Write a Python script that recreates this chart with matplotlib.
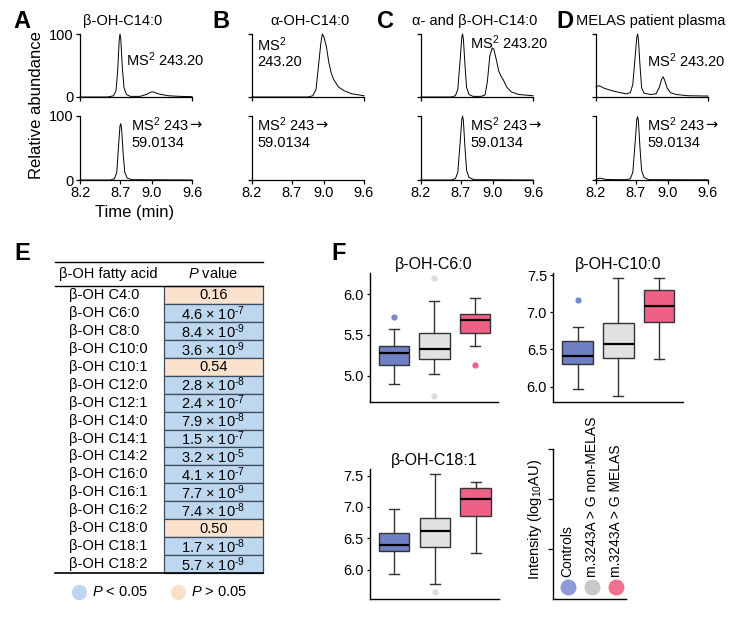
import numpy as np
import matplotlib
matplotlib.use("Agg")
import matplotlib.pyplot as plt
from matplotlib.patches import Rectangle
from matplotlib.lines import Line2D

plt.rcParams['font.family'] = ['Liberation Sans', 'DejaVu Sans']
plt.rcParams['mathtext.fontset'] = 'custom'
plt.rcParams['mathtext.rm'] = 'Liberation Sans'
plt.rcParams['mathtext.it'] = 'Liberation Sans:italic'

W, H = 735, 620


"""Chromatograms: retention position (min) and relative abundance (%)"""
time_ticks = [8.2, 8.7, 9.1, 9.6]
time_labels = ['8.2', '8.7', '9.0', '9.6']

a_top_t = [8.20, 8.55, 8.62, 8.65, 8.67, 8.69, 8.70, 8.71, 8.73, 8.75, 8.78, 8.83, 8.95, 9.03, 9.09, 9.12, 9.18, 9.30, 9.45, 9.60]
a_top_y = [0, 0, 2, 10, 40, 90, 100, 92, 45, 15, 4, 1, 1, 4, 8, 8, 5, 2, 1, 0.5]
a_bot_t = [8.20, 8.58, 8.63, 8.66, 8.68, 8.70, 8.71, 8.72, 8.74, 8.76, 8.79, 8.85, 9.60]
a_bot_y = [0, 0, 2, 12, 50, 85, 88, 80, 40, 12, 3, 0.5, 0]

b_top_t = [8.20, 8.90, 8.96, 9.00, 9.03, 9.06, 9.08, 9.10, 9.13, 9.16, 9.19, 9.22, 9.28, 9.35, 9.45, 9.60]
b_top_y = [0, 0, 2, 12, 48, 85, 100, 95, 80, 55, 38, 28, 16, 10, 5, 2]
b_bot_t = [8.20, 9.60]
b_bot_y = [0, 0]

c_top_t = [8.20, 8.58, 8.63, 8.66, 8.69, 8.71, 8.72, 8.73, 8.75, 8.77, 8.80, 8.85, 8.95, 9.00, 9.03, 9.06, 9.09, 9.11, 9.14, 9.17, 9.20, 9.23, 9.27, 9.33, 9.42, 9.60]
c_top_y = [0, 0, 2, 12, 60, 95, 100, 92, 50, 15, 4, 1, 1, 3, 25, 65, 78, 76, 60, 42, 33, 27, 16, 8, 4, 2]
c_bot_t = [8.20, 8.58, 8.63, 8.66, 8.69, 8.71, 8.72, 8.73, 8.75, 8.77, 8.80, 8.86, 9.60]
c_bot_y = [0, 0, 2, 12, 60, 95, 100, 92, 50, 15, 4, 0.5, 0]

d_top_t = [8.20, 8.24, 8.30, 8.40, 8.50, 8.58, 8.63, 8.66, 8.69, 8.71, 8.72, 8.73, 8.75, 8.77, 8.80, 8.88, 8.95, 8.99, 9.02, 9.04, 9.06, 9.09, 9.13, 9.20, 9.35, 9.60]
d_top_y = [16, 18, 14, 10, 7, 5, 7, 20, 65, 95, 100, 92, 50, 15, 6, 4, 5, 15, 28, 32, 26, 14, 7, 4, 2, 1.5]
d_bot_t = [8.20, 8.25, 8.32, 8.45, 8.58, 8.63, 8.66, 8.69, 8.71, 8.72, 8.73, 8.75, 8.77, 8.80, 8.86, 9.60]
d_bot_y = [1, 3, 1, 0.5, 0.5, 2, 12, 60, 95, 99, 92, 50, 15, 4, 0.5, 0.3]

chrom_titles = ['β-OH-C14:0', 'α-OH-C14:0', 'α- and β-OH-C14:0', 'MELAS patient plasma']


"""Table E"""
fatty_acids = ['β-OH C4:0', 'β-OH C6:0', 'β-OH C8:0', 'β-OH C10:0', 'β-OH C10:1',
               'β-OH C12:0', 'β-OH C12:1', 'β-OH C14:0', 'β-OH C14:1', 'β-OH C14:2',
               'β-OH C16:0', 'β-OH C16:1', 'β-OH C16:2', 'β-OH C18:0', 'β-OH C18:1',
               'β-OH C18:2']
p_mant = [0.16, 4.6, 8.4, 3.6, 0.54, 2.8, 2.4, 7.9, 1.5, 3.2, 4.1, 7.7, 7.4, 0.50, 1.7, 5.7]
p_exp = [0, -7, -9, -9, 0, -8, -7, -8, -7, -5, -7, -9, -8, 0, -8, -9]


"""Box plots F"""
groups = ['Controls', 'm.3243A > G non-MELAS', 'm.3243A > G MELAS']
c6_whislo = [4.90, 5.02, 5.36]
c6_q1 = [5.13, 5.21, 5.52]
c6_med = [5.28, 5.33, 5.68]
c6_q3 = [5.36, 5.52, 5.76]
c6_whishi = [5.57, 5.92, 5.95]
c6_fliers = [[5.72], [6.20, 4.75], [5.13]]

c10_whislo = [5.97, 5.87, 6.37]
c10_q1 = [6.31, 6.39, 6.87]
c10_med = [6.41, 6.58, 7.09]
c10_q3 = [6.62, 6.86, 7.30]
c10_whishi = [6.80, 7.46, 7.46]
c10_fliers = [[7.17], [], []]

c18_whislo = [5.94, 5.78, 6.27]
c18_q1 = [6.30, 6.37, 6.86]
c18_med = [6.40, 6.61, 7.12]
c18_q3 = [6.59, 6.83, 7.30]
c18_whishi = [6.97, 7.52, 7.40]
c18_fliers = [[], [5.64], []]

box_colors = ['#6f80c4', '#e1e1e1', '#ef6087']
flier_colors = ['#7588d0', '#dcdcdc', '#f0608a']
dot_colors = ['#8c9bd8', '#c8c8c8', '#f0708f']


fig = plt.figure(figsize=(W / 100, H / 100), dpi=100)


def px_axes(left, top, right, bottom):
    return fig.add_axes([left / W, 1 - bottom / H, (right - left) / W, (bottom - top) / H])


def ftext(x, y, s, **kw):
    return fig.text(x / W, 1 - y / H, s, **kw)


"""Panels A-D"""
tops = [(a_top_t, a_top_y), (b_top_t, b_top_y), (c_top_t, c_top_y), (d_top_t, d_top_y)]
bots = [(a_bot_t, a_bot_y), (b_bot_t, b_bot_y), (c_bot_t, c_bot_y), (d_bot_t, d_bot_y)]
lefts = [80, 252, 421, 596]
letters_x = [13, 212, 377, 556]
title_x = [123, 310, 475, 651]
for i in range(4):
    L = lefts[i]
    for j, (tt, yy) in enumerate([tops[i], bots[i]]):
        top, bot = (34, 97) if j == 0 else (116, 180)
        ax = px_axes(L, top, L + 112, bot)
        ax.plot(tt, yy, color='black', lw=0.7, clip_on=False)
        ax.set_xlim(8.2, 9.6)
        ax.set_ylim(0, 100)
        for s in ['top', 'right']:
            ax.spines[s].set_visible(False)
        for s in ['left', 'bottom']:
            ax.spines[s].set_linewidth(0.9)
        ax.set_yticks([0, 100])
        ax.tick_params(length=3, width=0.9, labelsize=10.5, pad=1.5)
        if i == 0:
            ax.set_yticklabels(['0', '100'])
        else:
            ax.set_yticklabels([])
        if j == 0:
            ax.set_xticks([8.2, 9.6])
            ax.set_xticklabels([])
        else:
            ax.set_xticks(time_ticks)
            ax.set_xticklabels(time_labels)
    ftext(letters_x[i], 22, 'ABCD'[i], fontsize=17, fontweight='bold', va='center')
    ftext(title_x[i], 21, chrom_titles[i], fontsize=10.5, ha='center', va='center')

ftext(126, 60, 'MS$^2$ 243.20', fontsize=10.5, va='center')
ftext(257, 52, 'MS$^2$\n243.20', fontsize=10.5, va='center', linespacing=1.1)
ftext(470, 43, 'MS$^2$ 243.20', fontsize=10.5, va='center')
ftext(647, 61, 'MS$^2$ 243.20', fontsize=10.5, va='center')
fig.canvas.draw()
rend = fig.canvas.get_renderer()
for x in [131, 257, 470, 647]:
    t1 = ftext(x, 125, 'MS$^2$ 243', fontsize=10.5, va='center')
    ftext(x, 143, '59.0134', fontsize=10.5, va='center')
    bb = t1.get_window_extent(renderer=rend)
    fig.text(bb.x1 / W + 0.5 / W, 1 - 125 / H, '→', fontsize=10.5, va='center',
             family=['DejaVu Sans'])

ftext(37, 105, 'Relative abundance', fontsize=12, rotation=90, ha='center', va='center')
ftext(135, 213, 'Time (min)', fontsize=12, ha='center', va='center')


"""Panel E"""
ftext(14, 253, 'E', fontsize=17, fontweight='bold', va='center')
n = len(fatty_acids)
hdr = 1.36
tax = px_axes(55, 261.7, 263, 573)
tax.set_xlim(0, 1)
tax.set_ylim(n, -hdr)
tax.axis('off')
tax.plot([0, 1], [-hdr, -hdr], color='black', lw=1, clip_on=False)
tax.plot([0, 1], [0, 0], color='black', lw=1, clip_on=False)
tax.plot([0, 1], [n, n], color='black', lw=1.2, clip_on=False)
tax.text(0.255, -hdr / 2, 'β-OH fatty acid', fontsize=10.5, ha='center', va='center')
tax.text(0.76, -hdr / 2, '$\\it{P}$ value', fontsize=10.5, ha='center', va='center')
c0 = 0.524
for k in range(n):
    pval = p_mant[k] * 10.0 ** p_exp[k]
    fc = '#bdd7ee' if pval < 0.05 else '#fbe2cc'
    tax.add_patch(Rectangle((c0, k), 1 - c0, 1, facecolor=fc, edgecolor='#3b4a5c', lw=0.9, clip_on=False))
    tax.text(0.067, k + 0.5, fatty_acids[k], fontsize=10.5, ha='left', va='center')
    if p_exp[k] == 0:
        lab = f'{p_mant[k]:.2f}'
    else:
        lab = f'{p_mant[k]:.1f} × 10$^{{\u2010{-p_exp[k]}}}$'
    tax.text((c0 + 1) / 2, k + 0.52, lab, fontsize=10.5, ha='center', va='center')
tax.plot([0.115], [n + 1.06], 'o', ms=10, color='#bcd6f0', clip_on=False)
tax.text(0.178, n + 1.06, '$\\it{P}$ < 0.05', fontsize=10.5, va='center')
tax.plot([0.591], [n + 1.06], 'o', ms=10, color='#fbe0c8', clip_on=False)
tax.text(0.654, n + 1.06, '$\\it{P}$ > 0.05', fontsize=10.5, va='center')


"""Panel F"""
ftext(331, 253, 'F', fontsize=17, fontweight='bold', va='center')


def boxpanel(rect, ylim, yticks, title, whislo, q1, med, q3, whishi, fliers, xlim):
    ax = px_axes(*rect)
    stats = []
    for k in range(3):
        stats.append(dict(whislo=whislo[k], q1=q1[k], med=med[k], q3=q3[k],
                          whishi=whishi[k], fliers=fliers[k]))
    bp = ax.bxp(stats, positions=[1, 2, 3], widths=0.75, capwidths=0.25,
                patch_artist=True, showfliers=True,
                boxprops=dict(edgecolor='#333333', lw=1),
                whiskerprops=dict(color='#333333', lw=1),
                capprops=dict(color='#333333', lw=1),
                medianprops=dict(color='black', lw=1.6))
    for k in range(3):
        bp['boxes'][k].set_facecolor(box_colors[k])
        bp['fliers'][k].set(marker='o', markersize=4.5, markerfacecolor=flier_colors[k],
                            markeredgecolor='none')
    ax.set_xlim(*xlim)
    ax.set_ylim(*ylim)
    ax.set_yticks(yticks)
    ax.set_yticklabels([f'{v:.1f}' for v in yticks])
    ax.set_xticks([])
    for s in ['top', 'right']:
        ax.spines[s].set_visible(False)
    for s in ['left', 'bottom']:
        ax.spines[s].set_linewidth(1)
    ax.tick_params(axis='y', length=2.5, width=0.9, labelsize=10.5, pad=2)
    ax.set_title(title, fontsize=11.5, pad=3)
    return ax


boxpanel((370, 272.7, 498, 402), (4.677, 6.265), [5.0, 5.5, 6.0], 'β-OH-C6:0',
         c6_whislo, c6_q1, c6_med, c6_q3, c6_whishi, c6_fliers, (0.41, 3.57))
boxpanel((553.3, 272.7, 683, 402), (5.794, 7.532), [6.0, 6.5, 7.0, 7.5], 'β-OH-C10:0',
         c10_whislo, c10_q1, c10_med, c10_q3, c10_whishi, c10_fliers, (0.40, 3.59))
boxpanel((370, 469.3, 499, 599.3), (5.53, 7.6), [6.0, 6.5, 7.0, 7.5], 'β-OH-C18:1',
         c18_whislo, c18_q1, c18_med, c18_q3, c18_whishi, c18_fliers, (0.41, 3.57))

# legend panel
lax = px_axes(553.3, 449.3, 626, 599)
lax.set_xlim(0, 3)
lax.set_ylim(0, 3)
lax.set_xticks([])
lax.set_yticks([1, 2, 3])
lax.set_yticklabels([])
lax.tick_params(axis='y', length=3.5, width=0.9)
for s in ['top', 'right']:
    lax.spines[s].set_visible(False)
for s in ['left', 'bottom']:
    lax.spines[s].set_linewidth(1)
ftext(535, 519, 'Intensity (log$_{10}$AU)', fontsize=10.5, rotation=90, ha='center', va='center')
dots_x = [567.7, 591.7, 616]
for k in range(3):
    fig.add_artist(Line2D([dots_x[k] / W], [1 - 587.3 / H], marker='o', ms=10.5,
                          color=dot_colors[k], transform=fig.transFigure))
    ftext(dots_x[k], 577, groups[k], fontsize=10, rotation=90, ha='center', va='bottom')

fig.savefig('out.png', dpi=100)
